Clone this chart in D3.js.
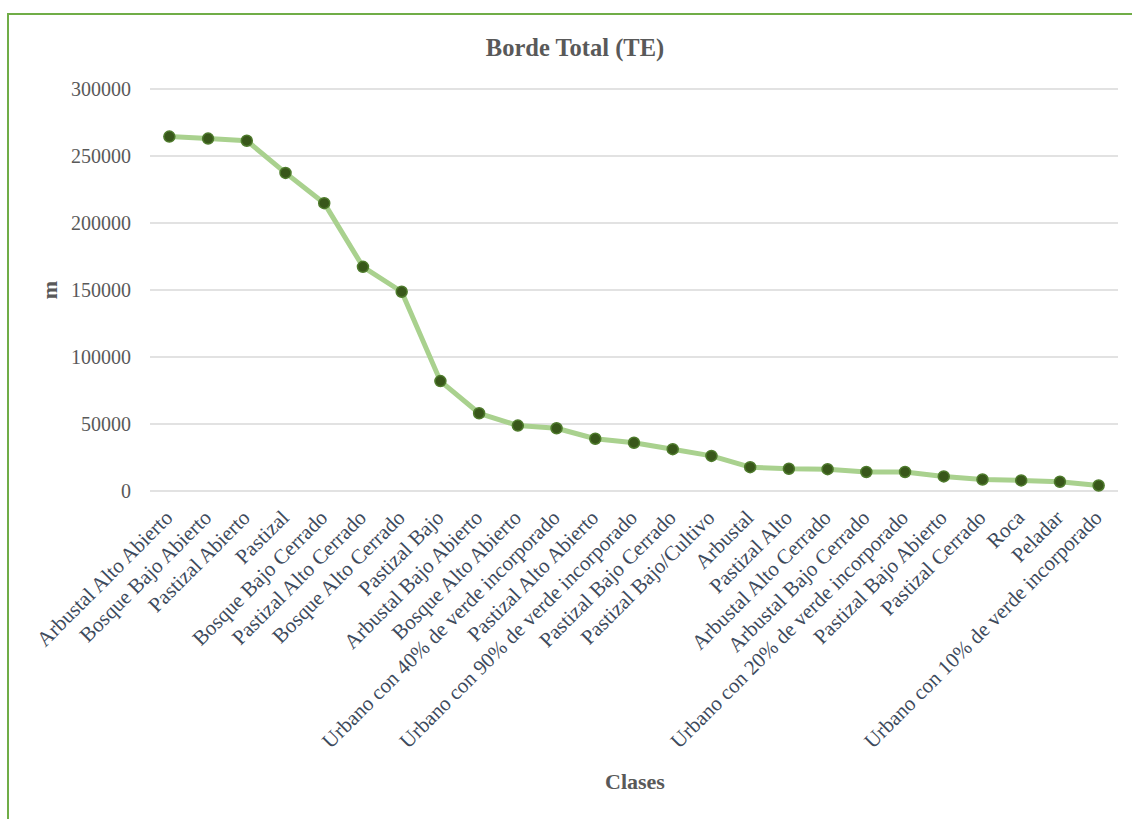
<!DOCTYPE html>
<html>
<head>
<meta charset="utf-8">
<script src="https://cdn.jsdelivr.net/npm/d3@7"></script>
<style>
  html, body { margin: 0; padding: 0; background: #fff; }
  svg { display: block; }
  text { font-family: "Liberation Serif", "Times New Roman", serif; }
</style>
</head>
<body>
<svg id="chart" width="1132" height="819"></svg>
<script>
// Land-cover classes, ordered by total edge length
const categories = [
  "Arbustal Alto Abierto", "Bosque Bajo Abierto", "Pastizal Abierto", "Pastizal",
  "Bosque Bajo Cerrado", "Pastizal Alto Cerrado", "Bosque Alto Cerrado", "Pastizal Bajo",
  "Arbustal Bajo Abierto", "Bosque Alto Abierto", "Urbano con 40% de verde incorporado",
  "Pastizal Alto Abierto", "Urbano con 90% de verde incorporado", "Pastizal Bajo Cerrado",
  "Pastizal Bajo/Cultivo", "Arbustal", "Pastizal Alto", "Arbustal Alto Cerrado",
  "Arbustal Bajo Cerrado", "Urbano con 20% de verde incorporado", "Pastizal Bajo Abierto",
  "Pastizal Cerrado", "Roca", "Peladar", "Urbano con 10% de verde incorporado"
];

// Total edge (TE) in metres
const edgeValues = [
  264500, 263000, 261400, 237400, 214800, 167300, 148700, 82000,
  58000, 48800, 46800, 39000, 36000, 31200, 26200, 17800,
  16600, 16300, 14200, 14200, 10900, 8600, 7900, 6900, 4100
];

const yTicks = [0, 50000, 100000, 150000, 200000, 250000, 300000];

const svg = d3.select("#chart");

// Outer frame (only top and left edges fall inside the canvas)
svg.append("rect")
  .attr("x", 8).attr("y", 14)
  .attr("width", 1140).attr("height", 820)
  .attr("fill", "none")
  .attr("stroke", "#70ad47")
  .attr("stroke-width", 2);

const plot = { left: 150, right: 1118, top: 89, bottom: 491 };

const x = d3.scalePoint()
  .domain(categories)
  .range([plot.left, plot.right])
  .padding(0.5);

const y = d3.scaleLinear()
  .domain([0, 300000])
  .range([plot.bottom, plot.top]);

// Horizontal gridlines
svg.append("g")
  .selectAll("line")
  .data(yTicks)
  .join("line")
  .attr("x1", plot.left).attr("x2", plot.right)
  .attr("y1", d => y(d)).attr("y2", d => y(d))
  .attr("stroke", "#d9d9d9")
  .attr("stroke-width", 1.5);

// Y axis labels
const yAxis = d3.axisLeft(y)
  .tickValues(yTicks)
  .tickFormat(d3.format("d"))
  .tickSize(0)
  .tickPadding(0);

const yG = svg.append("g")
  .attr("transform", `translate(${plot.left - 19},0)`)
  .call(yAxis);
yG.select(".domain").remove();
yG.selectAll("text")
  .attr("font-family", "Liberation Serif, Times New Roman, serif")
  .attr("font-size", 20)
  .attr("fill", "#595959");

// X axis category labels, rotated
const xAxis = d3.axisBottom(x).tickSize(0).tickPadding(0);
const xG = svg.append("g")
  .attr("transform", `translate(0,${plot.bottom})`)
  .call(xAxis);
xG.select(".domain").remove();
xG.selectAll("text")
  .attr("font-family", "Liberation Serif, Times New Roman, serif")
  .attr("font-size", 21)
  .attr("fill", "#3d4a5c")
  .attr("text-anchor", "end")
  .attr("dy", null)
  .attr("y", 0)
  .attr("transform", "translate(4,28) rotate(-45)");

// Series line
const data = categories.map((c, i) => ({ c, v: edgeValues[i] }));

svg.append("path")
  .datum(data)
  .attr("fill", "none")
  .attr("stroke", "#a9d18e")
  .attr("stroke-width", 5)
  .attr("stroke-linejoin", "round")
  .attr("d", d3.line().x(d => x(d.c)).y(d => y(d.v)));

// Markers
svg.append("g")
  .selectAll("circle")
  .data(data)
  .join("circle")
  .attr("cx", d => x(d.c))
  .attr("cy", d => y(d.v))
  .attr("r", 5.5)
  .attr("fill", "#38571a")
  .attr("stroke", "#4e7a2c")
  .attr("stroke-width", 1.5);

// Title
svg.append("text")
  .attr("x", 575).attr("y", 56)
  .attr("text-anchor", "middle")
  .attr("font-size", 24.5)
  .attr("font-weight", "bold")
  .attr("fill", "#595959")
  .text("Borde Total (TE)");

// Axis titles
svg.append("text")
  .attr("transform", "translate(57,290) rotate(-90)")
  .attr("text-anchor", "middle")
  .attr("font-size", 22)
  .attr("font-weight", "bold")
  .attr("fill", "#595959")
  .text("m");

svg.append("text")
  .attr("x", 635).attr("y", 789)
  .attr("text-anchor", "middle")
  .attr("font-size", 22)
  .attr("font-weight", "bold")
  .attr("fill", "#595959")
  .text("Clases");
</script>
</body>
</html>
